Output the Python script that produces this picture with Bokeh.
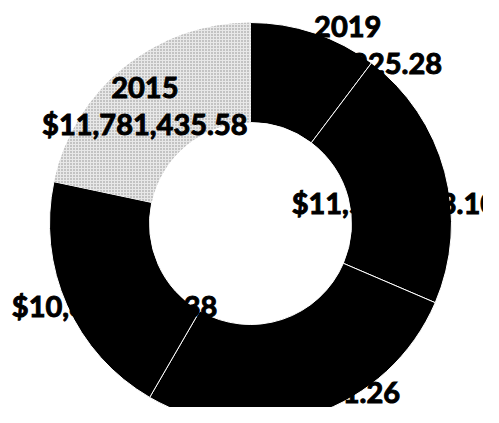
import math
from bokeh.plotting import figure
from bokeh.models import Range1d, ColumnDataSource
from bokeh.core.properties import value
from bokeh.embed import file_html
from bokeh.resources import INLINE

# ---- data ----
years = ["2019", "2018", "2017", "2016", "2015"]
amounts = [5588925.28, 11509763.10, 14636871.26, 10859418.38, 11781435.58]
amount_labels = ["$5,588,925.28", "$11,509,763.10", "$14,636,871.26", "$10,859,418.38", "$11,781,435.58"]

# ---- layout ----
W, H = 483, 407
cx, cy = 250, 184
r_in, r_out = 101, 201
label_r = 152
nudges = [(49, 35), (-3, 0), (-1, -6), (3, -2), (-10, 0)]
half_gap = 18

total = sum(amounts)
starts, ends, lx, ly = [], [], [], []
cum = 0.0
for i, a in enumerate(amounts):
    f0 = cum / total
    cum += a
    f1 = cum / total
    starts.append(math.pi / 2 - f0 * 2 * math.pi)
    ends.append(math.pi / 2 - f1 * 2 * math.pi)
    mid = (f0 + f1) / 2 * 2 * math.pi
    lx.append(cx + label_r * math.sin(mid) + nudges[i][0])
    ly.append(cy + label_r * math.cos(mid) + nudges[i][1])

src = ColumnDataSource(dict(lx=lx, ly=ly, year=years, amt=amount_labels))

p = figure(width=W, height=H, x_range=Range1d(0, W), y_range=Range1d(0, H),
           x_axis_type=None, y_axis_type=None, toolbar_location=None,
           output_backend="svg", min_border=0)
p.grid.visible = False
p.outline_line_color = None
p.background_fill_color = "white"

black_src = ColumnDataSource(dict(start=starts[:4], end=ends[:4]))
p.annular_wedge(x=cx, y=cy, inner_radius=r_in, outer_radius=r_out,
                start_angle="start", end_angle="end", direction="clock",
                fill_color="#000000", line_color="white", line_width=1,
                source=black_src)
gray_src = ColumnDataSource(dict(start=starts[4:], end=ends[4:]))
p.annular_wedge(x=cx, y=cy, inner_radius=r_in, outer_radius=r_out,
                start_angle="start", end_angle="end", direction="clock",
                fill_color="#e8e8e8", line_color=None,
                hatch_pattern="dot", hatch_color="#8c8c8c", hatch_scale=3,
                hatch_weight=1, source=gray_src)

common = dict(source=src, text_font=value("Lato"), text_font_style="bold",
              text_font_size="29px", text_color="black",
              text_align="center", text_baseline="middle",
              text_outline_color="black")
p.text(x="lx", y="ly", text="year", y_offset=-half_gap, **common)
p.text(x="lx", y="ly", text="amt", y_offset=half_gap, **common)

open("out.html", "w").write(file_html(p, INLINE))
